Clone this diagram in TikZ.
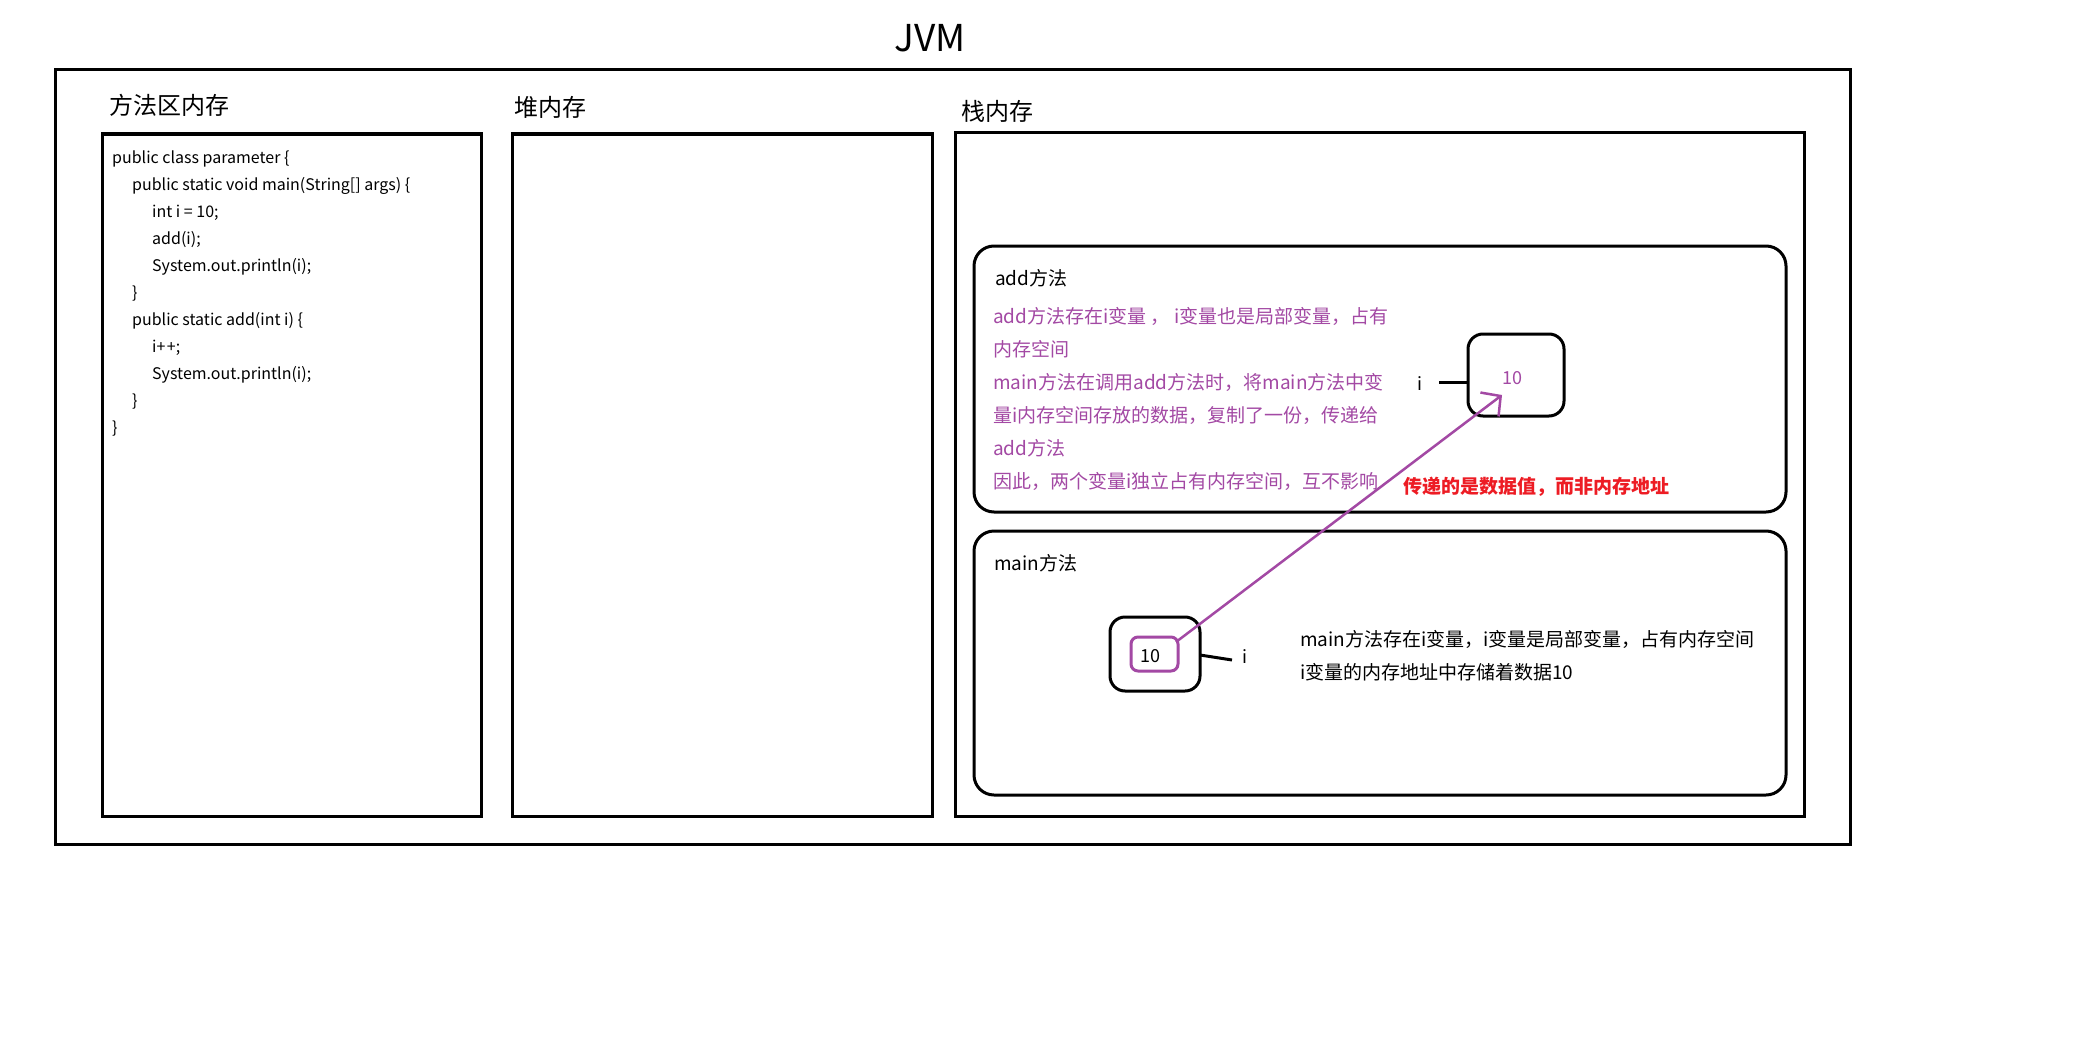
\documentclass[tikz,border=0pt]{standalone}
\usepackage{fontspec}
\setmainfont{Noto Sans CJK SC}
\usetikzlibrary{arrows.meta}
\definecolor{ppl}{RGB}{163,73,164}
\definecolor{rd}{RGB}{237,28,36}
\begin{document}
\begin{tikzpicture}[x=1pt,y=-1pt,
  box/.style={draw, line width=3pt, anchor=north west, inner sep=0pt, outer sep=0pt},
  rbox/.style={box, rounded corners=20pt},
  ibox/.style={box, rounded corners=15pt},
  lbl/.style={anchor=base west, inner sep=0pt, font=\fontsize{24}{28}\selectfont},
  txt/.style={anchor=base west, inner sep=0pt, font=\fontsize{19}{22}\selectfont},
  code/.style={anchor=base west, inner sep=0pt, font=\fontsize{16}{18}\selectfont},
  num/.style={anchor=base, inner sep=0pt, font=\fontsize{18}{20}\selectfont},
  conn/.style={line width=3pt}
]
\useasboundingbox (0,0) rectangle (2084,1046);
\fill[white] (0,0) rectangle (2084,1046);

% title
\node[anchor=base, inner sep=0pt, font=\fontsize{37}{40}\selectfont] (title) at (930,52) {JVM};

% outer boxes
\node[box, minimum width=1795pt, minimum height=774pt] (jvm) at (55,70) {};
\node[box, minimum width=379pt, minimum height=682pt] (method) at (102,134) {};
\node[box, minimum width=420pt, minimum height=682pt] (heap) at (512,134) {};
\node[box, minimum width=849pt, minimum height=683pt] (stack) at (955,133) {};

\node[lbl] (lmethod) at (109,115) {方法区内存};
\node[lbl] (lheap) at (514,117) {堆内存};
\node[lbl] (lstack) at (961,121) {栈内存};

% code
\node[code] (c1) at (112,163) {public class parameter \{};
\node[code] (c2) at (132,190) {public static void main(String[] args) \{};
\node[code] (c3) at (152,217) {int i = 10;};
\node[code] (c4) at (152,244) {add(i);};
\node[code] (c5) at (152,271) {System.out.println(i);};
\node[code] (c6) at (132,298) {\}};
\node[code] (c7) at (132,325) {public static add(int i) \{};
\node[code] (c8) at (152,352) {i+\kern1.5pt+;};
\node[code] (c9) at (152,379) {System.out.println(i);};
\node[code] (c10) at (132,406) {\}};
\node[code] (c11) at (112,433) {\}};

% add frame
\node[rbox, minimum width=812pt, minimum height=266pt] (addf) at (974,246) {};
\node[txt] (laddf) at (995,285) {add方法};
\node[txt, text=ppl] (a1) at (993,323) {add方法存在i变量 ， i变量也是局部变量，占有};
\node[txt, text=ppl] (a2) at (993,356) {内存空间};
\node[txt, text=ppl] (a3) at (993,389) {main方法在调用add方法时，将main方法中变};
\node[txt, text=ppl] (a4) at (993,422) {量i内存空间存放的数据，复制了一份，传递给};
\node[txt, text=ppl] (a5) at (993,455) {add方法};
\node[txt, text=ppl] (a6) at (993,488) {因此，两个变量i独立占有内存空间，互不影响};
\node[txt, text=rd, font=\fontsize{19}{22}\selectfont\bfseries] (red) at (1403,493) {传递的是数据值，而非内存地址};

\node[ibox, minimum width=96pt, minimum height=82pt] (ai) at (1468,334) {};
\node[num, text=ppl] (aiv) at (1512,384) {10};
\node[num] (ail) at (1420,390) {i};
\coordinate (ailc) at (1439,382);
\draw[conn] (ailc) -- (ai.west |- ailc);

% main frame
\node[rbox, minimum width=812pt, minimum height=264pt] (mainf) at (974,531) {};
\node[txt] (lmainf) at (994,570) {main方法};
\node[ibox, minimum width=90pt, minimum height=74pt] (mo) at (1110,617) {};
\node[box, draw=ppl, rounded corners=7pt, minimum width=47pt, minimum height=34pt] (mi) at (1131,637) {};
\node[num] (miv) at (1150,662) {10};
\node[num] (mil) at (1245,663) {i};
\coordinate (milc) at (1232,660);
\draw[conn] ([yshift=-1pt]mo.east) -- (milc);
\node[txt] (m1) at (1300,646) {main方法存在i变量，i变量是局部变量，占有内存空间};
\node[txt] (m2) at (1300,679) {i变量的内存地址中存储着数据10};

% arrow
\coordinate (tip) at (1502,395);
\draw[ppl, line width=2.5pt, -{Straight Barb[length=14pt,width=30pt]}] ([shift={(-2,5)}]mi.north east) -- (tip);
\end{tikzpicture}
\end{document}
